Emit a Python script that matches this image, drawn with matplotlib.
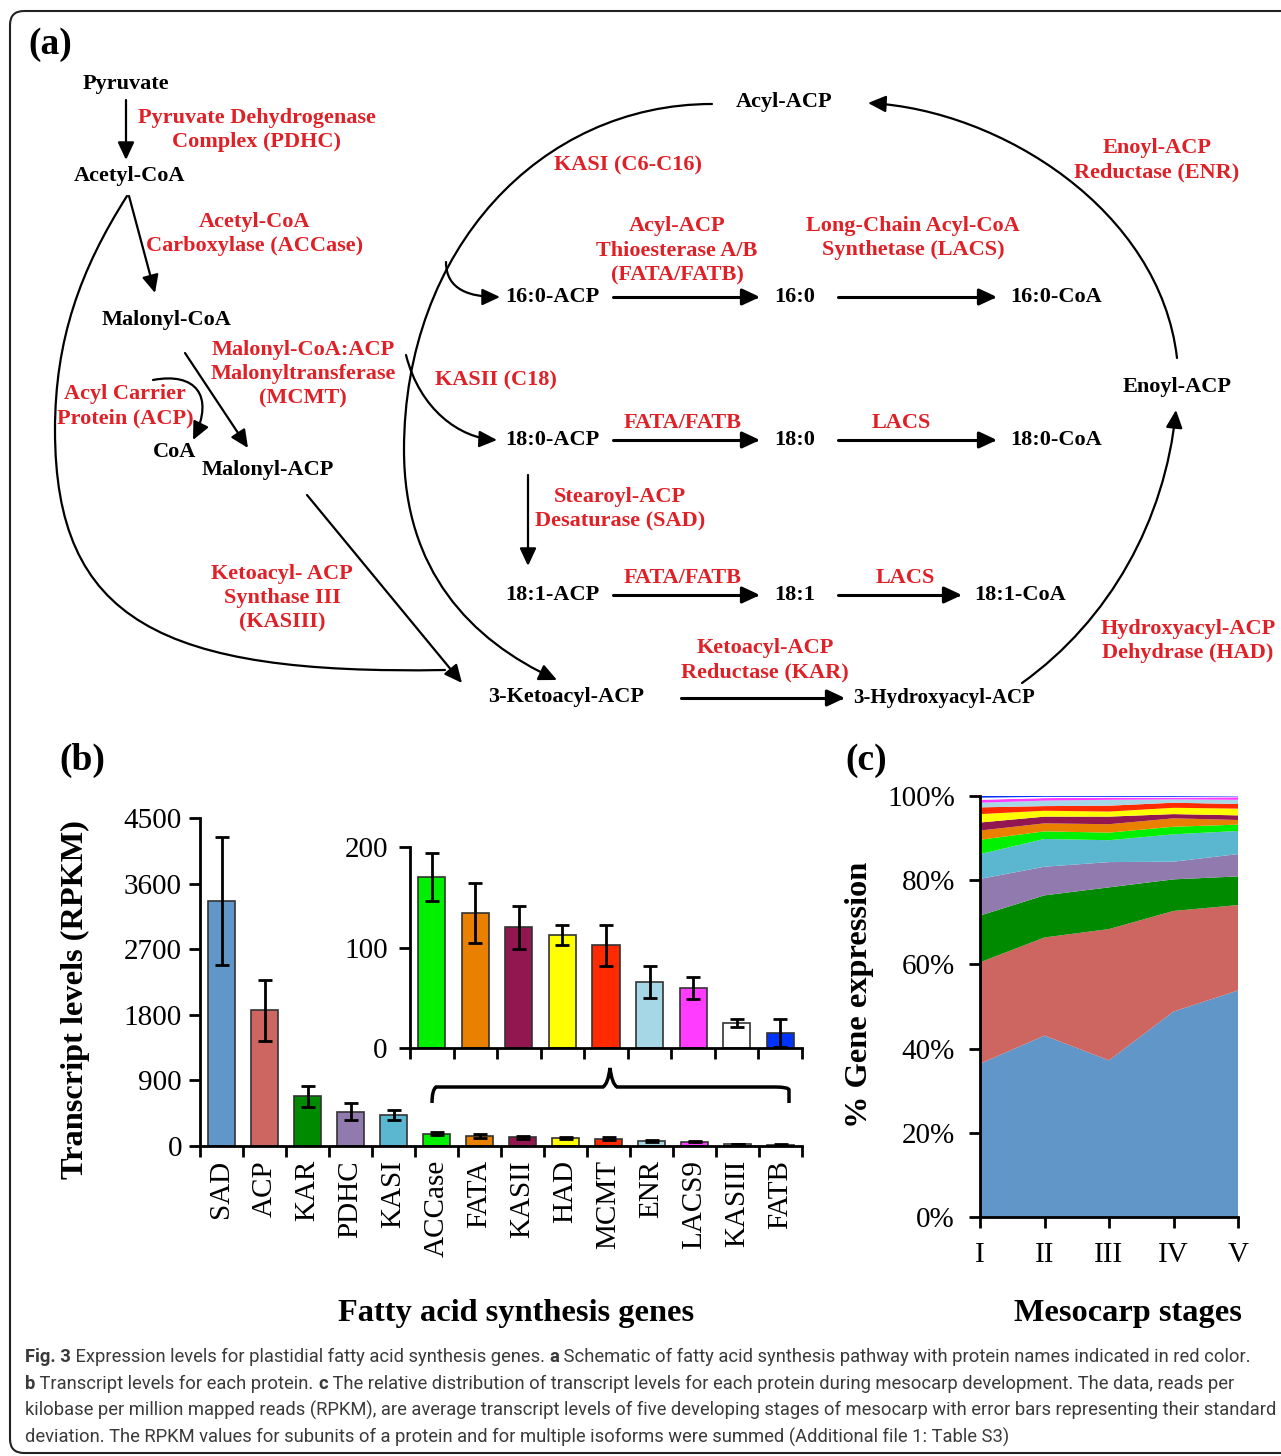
import numpy as np
import matplotlib
matplotlib.use("Agg")
import matplotlib.pyplot as plt
from matplotlib.path import Path
from matplotlib.patches import FancyArrowPatch, FancyBboxPatch, PathPatch

plt.rcParams['font.family'] = 'Liberation Serif'

# ---- data -------------------------------------------------------------
genes = ['SAD', 'ACP', 'KAR', 'PDHC', 'KASI', 'ACCase', 'FATA', 'KASII',
         'HAD', 'MCMT', 'ENR', 'LACS9', 'KASIII', 'FATB']
rpkm = [3360, 1860, 680, 470, 430, 170, 134, 120, 112, 102, 66, 60, 25, 15]
rpkm_sd = [880, 420, 150, 115, 70, 24, 30, 21, 10, 20, 16, 11, 4, 14]
gene_colors = ['#6096c8', '#cd6660', '#008a00', '#917aae', '#5bb7d0',
               '#00f000', '#ea8000', '#921650', '#ffff00', '#ff2a00',
               '#a6d7e6', '#ff3cff', '#ffffff', '#0033ff']

stages = ['I', 'II', 'III', 'IV', 'V']
# % of total expression per stage (bottom to top of the stack)
share_SAD = [36.4, 43.1, 37.2, 48.8, 53.8]
share_ACP = [24.1, 23.3, 31.2, 23.9, 20.3]
share_KAR = [11.1, 10.0, 9.9, 7.5, 6.8]
share_PDHC = [8.7, 6.8, 6.0, 4.2, 5.3]
share_KASI = [5.9, 6.6, 5.2, 6.5, 5.5]
share_ACCase = [3.4, 1.8, 1.8, 1.8, 1.5]
share_FATA = [2.2, 1.9, 2.0, 2.0, 1.1]
share_KASII = [1.9, 1.6, 1.8, 1.0, 1.1]
share_HAD = [2.0, 1.4, 1.2, 1.5, 1.6]
share_MCMT = [1.6, 1.1, 1.4, 1.2, 1.1]
share_ENR = [1.1, 1.3, 1.4, 0.8, 1.0]
share_LACS9 = [0.7, 0.6, 0.5, 0.4, 0.6]
share_KASIII = [0.5, 0.3, 0.2, 0.2, 0.2]
share_FATB = [0.4, 0.2, 0.2, 0.2, 0.1]
shares = [share_SAD, share_ACP, share_KAR, share_PDHC, share_KASI,
          share_ACCase, share_FATA, share_KASII, share_HAD, share_MCMT,
          share_ENR, share_LACS9, share_KASIII, share_FATB]

W, H = 1281, 1456
RED = '#e02027'
fig = plt.figure(figsize=(W / 100, H / 100), dpi=100)


def rect(x0, y0, x1, y1):
    return [x0 / W, 1 - y1 / H, (x1 - x0) / W, (y1 - y0) / H]


def style_axes(ax):
    ax.set_facecolor('none')
    for s in ['top', 'right']:
        ax.spines[s].set_visible(False)
    for s in ['left', 'bottom']:
        ax.spines[s].set_linewidth(2)


bar_kw = dict(width=0.62, edgecolor='#333333', linewidth=1.2, capsize=5,
              error_kw=dict(elinewidth=2, capthick=2, ecolor='black'))

# ---- (b) main bars -----------------------------------------------------
axb = fig.add_axes(rect(200, 818, 802, 1146))
style_axes(axb)
xb = np.arange(len(genes))
axb.bar(xb, rpkm, yerr=rpkm_sd, color=gene_colors, **bar_kw)
axb.set_xlim(-0.5, len(genes) - 0.5)
axb.set_ylim(0, 4500)
axb.set_yticks(np.arange(0, 4501, 900))
axb.set_xticks(xb)
axb.set_xticklabels(genes, rotation=90, fontsize=21)
axb.set_xticks(np.arange(-0.5, len(genes), 1), minor=True)
axb.tick_params(axis='x', which='major', length=0, pad=10)
axb.tick_params(axis='x', which='minor', length=8, width=2)
axb.tick_params(axis='y', length=8, width=2, labelsize=21, pad=5)

# ---- (b) inset ---------------------------------------------------------
axi = fig.add_axes(rect(410, 847, 802, 1048))
style_axes(axi)
xi = np.arange(len(genes) - 5)
axi.bar(xi, rpkm[5:], yerr=rpkm_sd[5:], color=gene_colors[5:], **bar_kw)
axi.set_xlim(-0.5, len(xi) - 0.5)
axi.set_ylim(0, 200)
axi.set_yticks([0, 100, 200])
axi.set_xticks([])
axi.set_xticks(np.arange(-0.5, len(xi), 1), minor=True)
axi.tick_params(axis='x', which='minor', length=8, width=2)
axi.tick_params(axis='y', length=8, width=2, labelsize=21, pad=8)

# ---- (c) stacked area --------------------------------------------------
axc = fig.add_axes(rect(980, 796, 1238, 1217))
style_axes(axc)
axc.stackplot(np.arange(len(stages)), shares, colors=gene_colors, linewidth=0)
axc.set_xlim(0, len(stages) - 1)
axc.set_ylim(0, 100)
axc.set_yticks(np.arange(0, 101, 20))
axc.set_yticklabels([f'{v}%' for v in range(0, 101, 20)])
axc.set_xticks(np.arange(len(stages)))
axc.set_xticklabels(stages)
axc.tick_params(axis='both', length=8, width=2, labelsize=21)
axc.tick_params(axis='x', pad=10)
axc.tick_params(axis='y', pad=10)

# ---- overlay: diagram (a), labels, caption, border --------------------
ax = fig.add_axes([0, 0, 1, 1])
ax.set_zorder(10)
ax.set_xlim(0, W)
ax.set_ylim(H, 0)
ax.axis('off')

ax.add_patch(FancyBboxPatch((10, 11), 1300, 1442,
                            boxstyle='round,pad=0,rounding_size=14',
                            fill=False, lw=1.5, ec='#222222'))


def arrow(pts, lw=1.6, head=True):
    if len(pts) == 2:
        codes = [Path.MOVETO, Path.LINETO]
    else:
        codes = [Path.MOVETO] + [Path.CURVE4] * (len(pts) - 1)
    st = '-|>,head_length=0.6,head_width=0.28' if head else '-'
    ax.add_patch(FancyArrowPatch(path=Path(pts, codes), arrowstyle=st,
                                 mutation_scale=18, lw=lw, color='black'))


def lab(x, y, s, red=False, size=16):
    ax.text(x, y, s, ha='center', va='center', fontsize=size,
            fontweight='bold', color=RED if red else 'black', linespacing=1.3)


ax.text(28, 44, '(a)', fontsize=27, fontweight='bold', ha='left', va='center')

lab(126, 84, 'Pyruvate')
lab(257, 130, 'Pyruvate Dehydrogenase\nComplex (PDHC)', True)
lab(130, 176, 'Acetyl-CoA')
lab(255, 234, 'Acetyl-CoA\nCarboxylase (ACCase)', True)
lab(167, 320, 'Malonyl-CoA')
lab(303, 374, 'Malonyl-CoA:ACP\nMalonyltransferase\n(MCMT)', True)
lab(125, 406, 'Acyl Carrier\nProtein (ACP)', True)
lab(175, 452, 'CoA')
lab(268, 470, 'Malonyl-ACP')
lab(282, 598, 'Ketoacyl- ACP\nSynthase III\n(KASIII)', True)
lab(566, 697, '3-Ketoacyl-ACP')
lab(765, 660, 'Ketoacyl-ACP\nReductase (KAR)', True)
lab(944, 698, '3-Hydroxyacyl-ACP', size=15)
lab(1188, 641, 'Hydroxyacyl-ACP\nDehydrase (HAD)', True)
lab(1177, 387, 'Enoyl-ACP')
lab(1157, 160, 'Enoyl-ACP\nReductase (ENR)', True)
lab(784, 102, 'Acyl-ACP')
lab(628, 165, 'KASI (C6-C16)', True)
lab(677, 251, 'Acyl-ACP\nThioesterase A/B\n(FATA/FATB)', True)
lab(913, 238, 'Long-Chain Acyl-CoA\nSynthetase (LACS)', True)
lab(496, 380, 'KASII (C18)', True)
lab(620, 509, 'Stearoyl-ACP\nDesaturase (SAD)', True)
for yy, tail in [(297, '16:0'), (440, '18:0'), (595, '18:1')]:
    lab(552, yy, tail + '-ACP')
    lab(795, yy, tail)
for yy in [423, 578]:
    lab(683, yy, 'FATA/FATB', True)
lab(901, 423, 'LACS', True)
lab(905, 578, 'LACS', True)
lab(1056, 297, '16:0-CoA')
lab(1056, 440, '18:0-CoA')
lab(1020, 595, '18:1-CoA')

# straight arrows
arrow([(126, 100), (126, 160)])
arrow([(129, 196), (155, 293)])
arrow([(185, 353), (248, 448)])
arrow([(307, 495), (462, 683)])
arrow([(528, 475), (528, 566)])
for yy in [297, 440, 595]:
    arrow([(613, yy), (760, yy)], lw=2.2)
arrow([(838, 297), (997, 297)], lw=2.2)
arrow([(838, 440), (997, 440)], lw=2.2)
arrow([(838, 595), (962, 595)], lw=2.2)
arrow([(681, 698), (845, 698)], lw=2.2)
# curved arrows
arrow([(153, 380), (195, 372), (215, 395), (193, 440)])
arrow([(127, 196), (80, 270), (55, 340), (55, 430),
       (55, 620), (160, 675), (445, 670)], head=False)
arrow([(712, 104), (540, 104), (404, 250), (404, 450),
       (404, 570), (470, 640), (557, 680)])
arrow([(446, 262), (446, 290), (470, 297), (500, 297)])
arrow([(406, 355), (420, 410), (460, 438), (497, 440)])
arrow([(1022, 683), (1110, 620), (1165, 520), (1176, 410)])
arrow([(1177, 358), (1160, 210), (1000, 110), (868, 103)])

# brace over the inset genes
bv = [(432, 1103), (432, 1090), (436, 1087), (450, 1087),
      (603, 1087), (608, 1084), (610, 1068), (612, 1084), (617, 1087),
      (775, 1087), (789, 1087), (789, 1090), (789, 1103)]
bc = [Path.MOVETO, Path.CURVE3, Path.CURVE3, Path.LINETO,
      Path.LINETO, Path.CURVE3, Path.CURVE3, Path.CURVE3, Path.CURVE3,
      Path.LINETO, Path.CURVE3, Path.CURVE3, Path.LINETO]
ax.add_patch(PathPatch(Path(bv, bc), fill=False, lw=2.5, ec='black'))

# panel labels and axis titles
ax.text(82, 760, '(b)', fontsize=27, fontweight='bold', ha='center', va='center')
ax.text(866, 760, '(c)', fontsize=27, fontweight='bold', ha='center', va='center')
ax.text(75, 1000, 'Transcript levels (RPKM)', rotation=90, fontsize=23.3,
        fontweight='bold', ha='center', va='center')
ax.text(516, 1313, 'Fatty acid synthesis genes', fontsize=23.3,
        fontweight='bold', ha='center', va='center')
ax.text(860, 995, '% Gene expression', rotation=90, fontsize=23.3,
        fontweight='bold', ha='center', va='center')
ax.text(1128, 1313, 'Mesocarp stages', fontsize=23.3,
        fontweight='bold', ha='center', va='center')

# caption
cap_lines = [
    [('Fig. 3', 'bold'), (' Expression levels for plastidial fatty acid synthesis genes. ', 'normal'),
     ('a', 'bold'), (' Schematic of fatty acid synthesis pathway with protein names indicated in red color.', 'normal')],
    [('b', 'bold'), (' Transcript levels for each protein. ', 'normal'), ('c', 'bold'),
     (' The relative distribution of transcript levels for each protein during mesocarp development. The data, reads per', 'normal')],
    [('kilobase per million mapped reads (RPKM), are average transcript levels of five developing stages of mesocarp with error bars representing their standard', 'normal')],
    [('deviation. The RPKM values for subunits of a protein and for multiple isoforms were summed (Additional file 1: Table S3)', 'normal')],
]
cap_y = [1357, 1384, 1410, 1437]
renderer = fig.canvas.get_renderer()
probe = ax.text(0, 0, cap_lines[2][0][0], fontsize=12, family='Roboto')
cap_size = 12 * 1250 / probe.get_window_extent(renderer).width
probe.remove()
for yy, pieces in zip(cap_y, cap_lines):
    xx = 25
    for s, w in pieces:
        t = ax.text(xx, yy, s, fontsize=cap_size, fontweight=w, family='Roboto',
                    color='#3a3a3a', ha='left', va='center')
        xx += t.get_window_extent(renderer).width

fig.savefig('out.png', dpi=100)
